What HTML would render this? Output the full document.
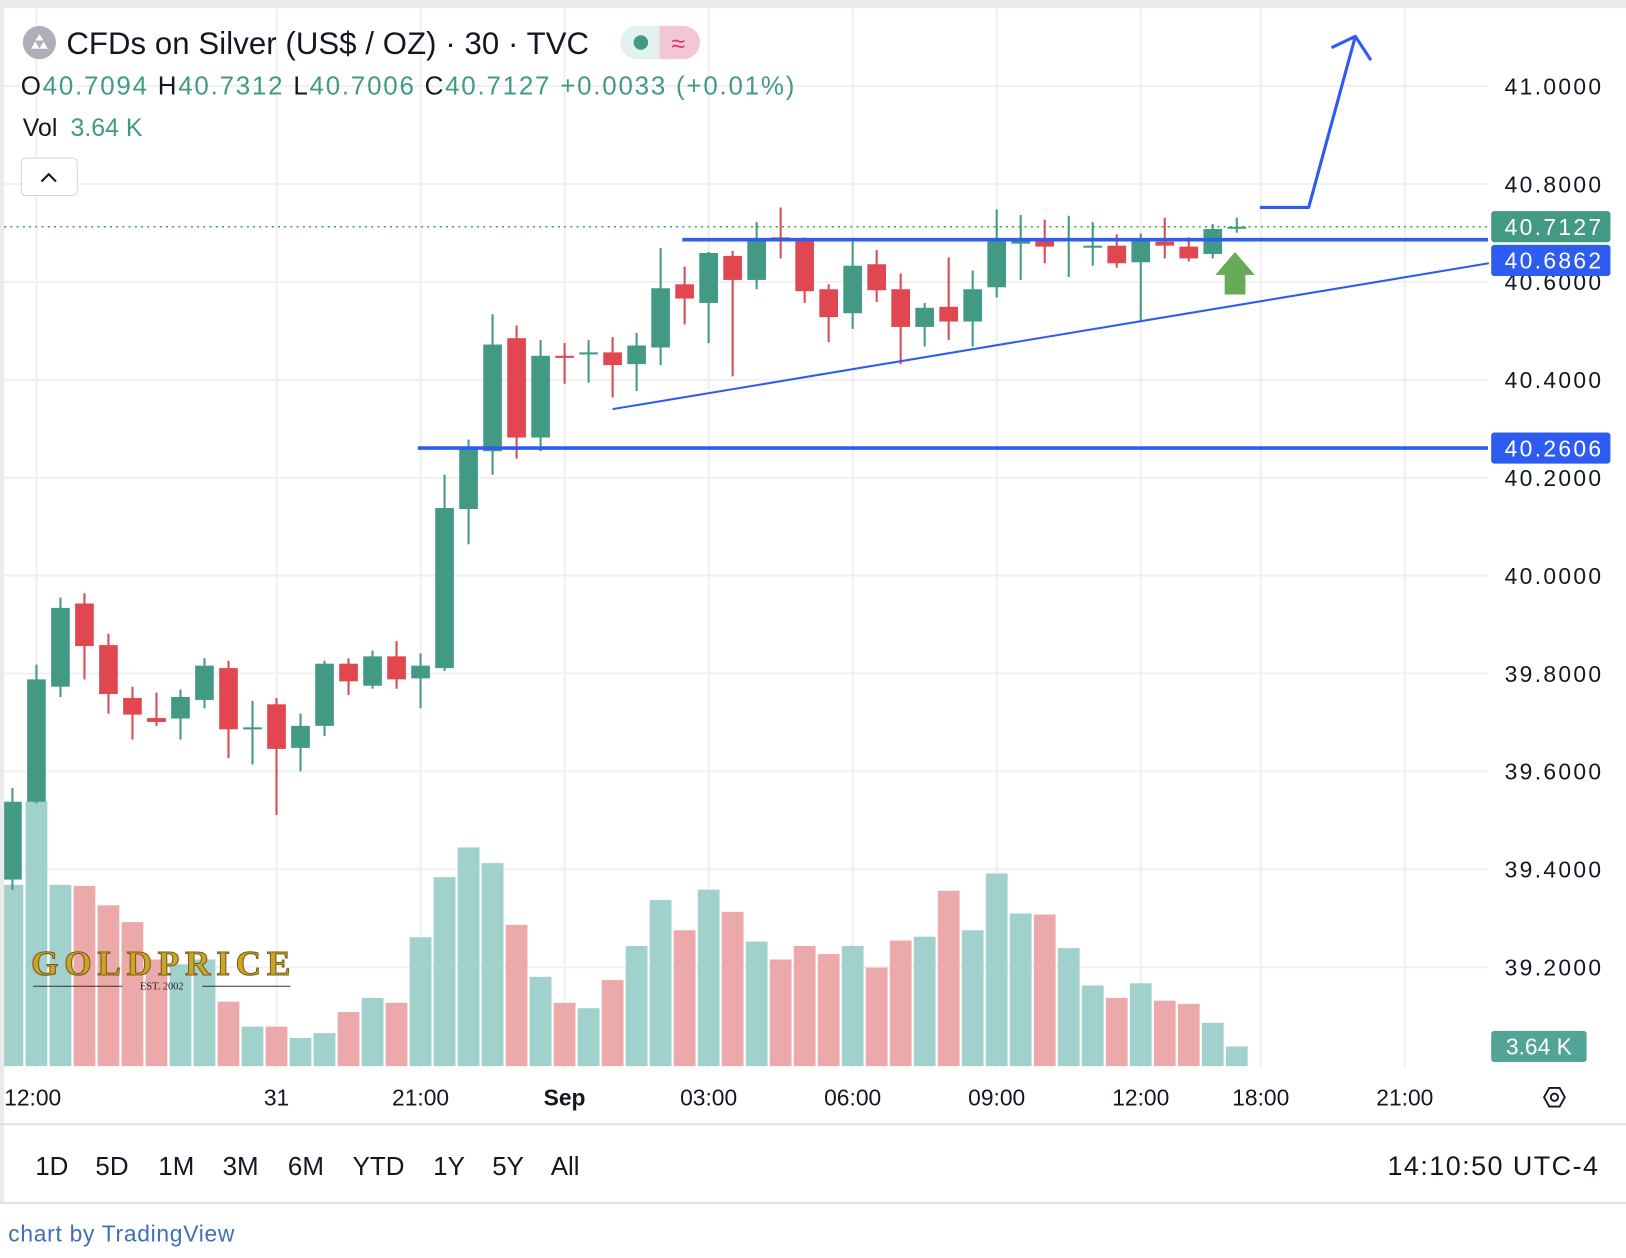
<!DOCTYPE html>
<html><head><meta charset="utf-8">
<style>
html,body{margin:0;padding:0;background:#fff;width:1626px;height:1258px;overflow:hidden}
svg{display:block;font-family:"Liberation Sans",sans-serif}
</style></head>
<body>
<svg id="chart" width="1626" height="1258" viewBox="0 0 1568 1213" preserveAspectRatio="none" xmlns="http://www.w3.org/2000/svg">
<rect x="0" y="0" width="1568" height="1213" fill="#fff"/>
<rect x="0" y="0" width="1568" height="8" fill="#ebebeb"/>
<rect x="0" y="0" width="4" height="1160" fill="#ebebeb"/>
<g id="grid"></g>
<g id="vols"></g>
<g id="candles"></g>
<g>
<text x="30" y="940" font-family="Liberation Serif,serif" font-weight="bold" font-size="34" fill="#c9a52a" stroke="#7a5a10" stroke-width="1" textLength="250">GOLDPRICE</text>
<line x1="32" y1="951" x2="118" y2="951" stroke="#333" stroke-width="1"/>
<line x1="195" y1="951" x2="280" y2="951" stroke="#333" stroke-width="1"/>
<text x="156" y="954" text-anchor="middle" font-family="Liberation Serif,serif" font-size="10" fill="#222">EST. 2002</text>
</g>
<g id="drawings"></g>
<g id="axis"></g>
<!-- header -->
<circle cx="38" cy="41" r="16" fill="#b0aeb8"/>
<path d="M30 47 L34 40 L38 47 Z M38 47 L42 40 L46 47 Z M34 39 L38 33 L42 39 Z" fill="#fff"/>
<text x="64" y="52" font-size="30" fill="#131722" textLength="504">CFDs on Silver (US$ / OZ) · 30 · TVC</text>
<g>
<rect x="598" y="25" width="77" height="32" rx="16" fill="#e3f2ee"/>
<path d="M636 25 H659 A16 16 0 0 1 659 57 H636 Z" fill="#f2c6d3"/>
<circle cx="618" cy="41" r="7" fill="#429a85"/>
<text x="654" y="50" font-size="24" fill="#d9376e" text-anchor="middle">≈</text>
</g>
<text x="20" y="91" font-size="25" fill="#131722" textLength="746">O<tspan fill="#429a85">40.7094</tspan>  H<tspan fill="#429a85">40.7312</tspan>  L<tspan fill="#429a85">40.7006</tspan>  C<tspan fill="#429a85">40.7127</tspan>  <tspan fill="#429a85">+0.0033 (+0.01%)</tspan></text>
<text x="22" y="131" font-size="24" fill="#131722">Vol <tspan dx="6" fill="#429a85">3.64 K</tspan></text>
<g>
<rect x="20.5" y="152.5" width="54" height="36" rx="4" fill="#fff" stroke="#d6d6d6"/>
<path d="M40 175 L47 168 L54 175" fill="none" stroke="#131722" stroke-width="2"/>
</g>
<!-- time axis -->
<g id="taxis"></g>
<line x1="0" y1="1084" x2="1568" y2="1084" stroke="#e0e0e0" stroke-width="2"/>
<g>
<path d="M1489 1058 L1494 1049 L1504 1049 L1509 1058 L1504 1067 L1494 1067 Z" fill="none" stroke="#131722" stroke-width="1.8"/>
<circle cx="1499" cy="1058" r="3.5" fill="none" stroke="#131722" stroke-width="1.8"/>
</g>
<g id="ranges"></g>
<text x="1541" y="1133" font-size="26" fill="#131722" text-anchor="end" textLength="203">14:10:50 UTC-4</text>
<line x1="0" y1="1160" x2="1568" y2="1160" stroke="#e0e0e0" stroke-width="2"/>
<text x="8" y="1197" font-size="22" fill="#3f6fb5" textLength="218">chart by TradingView</text>
</svg>
<script>
const opens=[39.379,39.538,39.773,39.943,39.858,39.750,39.709,39.708,39.746,39.811,39.688,39.737,39.648,39.693,39.820,39.775,39.835,39.790,39.811,40.136,40.254,40.485,40.282,40.449,40.453,40.456,40.432,40.466,40.595,40.557,40.653,40.604,40.691,40.686,40.585,40.536,40.636,40.585,40.508,40.549,40.519,40.589,40.678,40.684,40.684,40.672,40.674,40.640,40.682,40.672,40.657,40.7094];
const highs=[39.566,39.818,39.955,39.964,39.881,39.773,39.761,39.767,39.831,39.826,39.744,39.750,39.718,39.826,39.831,39.847,39.866,39.841,40.206,40.278,40.534,40.511,40.481,40.475,40.481,40.487,40.496,40.669,40.631,40.661,40.663,40.722,40.752,40.691,40.595,40.686,40.665,40.617,40.557,40.650,40.623,40.748,40.737,40.727,40.735,40.722,40.697,40.699,40.731,40.691,40.718,40.7312];
const lows=[39.358,39.535,39.752,39.788,39.718,39.665,39.693,39.665,39.729,39.627,39.614,39.511,39.600,39.672,39.756,39.769,39.769,39.729,39.805,40.064,40.206,40.239,40.254,40.392,40.394,40.364,40.377,40.430,40.513,40.475,40.407,40.585,40.648,40.557,40.477,40.504,40.559,40.432,40.468,40.481,40.468,40.568,40.604,40.638,40.610,40.633,40.629,40.519,40.648,40.642,40.648,40.7006];
const closes=[39.538,39.788,39.934,39.856,39.758,39.716,39.701,39.752,39.816,39.686,39.690,39.646,39.693,39.820,39.784,39.835,39.788,39.816,40.138,40.261,40.472,40.282,40.449,40.445,40.456,40.430,40.470,40.587,40.566,40.659,40.604,40.689,40.687,40.581,40.528,40.633,40.583,40.508,40.547,40.519,40.585,40.686,40.686,40.672,40.687,40.674,40.638,40.689,40.674,40.648,40.708,40.7127];
const volumes=[33.5,48.9,33.5,33.3,29.7,26.6,19.7,18.8,19.7,11.9,7.3,7.3,5.2,6.1,10.0,12.6,11.7,23.8,34.9,40.4,37.5,26.1,16.5,11.7,10.7,15.9,22.2,30.7,25.1,32.6,28.5,23.0,19.7,22.2,20.7,22.2,18.2,23.2,23.9,32.4,25.1,35.6,28.2,28.0,21.8,14.9,12.6,15.3,12.1,11.5,8.0,3.64];
const priceTicks=[41.0,40.8,40.6,40.4,40.2,40.0,39.8,39.6,39.4,39.2];
const timeLabels=["12:00","31","21:00","Sep","03:00","06:00","09:00","12:00","18:00","21:00"];
const timeSlots=[1,11,17,23,29,35,41,47,52,58];
const rangeLabels=["1D","5D","1M","3M","6M","YTD","1Y","5Y","All"];
const lastPrice=40.7127, resistance=40.6862, support=40.2606;
const trendStart=[25,40.34], trendEnd=[61.5,40.638];

const NS="http://www.w3.org/2000/svg";
function y(p){return 83+(41-p)*472;}
function x(i){return 12+i*23.15;}
function yv(v){return 1028-v*5.22;}
function el(tag,attrs,parent){const e=document.createElementNS(NS,tag);for(const k in attrs)e.setAttribute(k,attrs[k]);parent.appendChild(e);return e;}
const G=document.getElementById('grid'),V=document.getElementById('vols'),C=document.getElementById('candles'),A=document.getElementById('axis'),D=document.getElementById('drawings'),T=document.getElementById('taxis'),R=document.getElementById('ranges');

priceTicks.forEach(p=>{
  const l=el('line',{x1:4,x2:1435,y1:y(p),y2:y(p),stroke:'#f0f0f0','stroke-width':2},G);
  
  
  const t=el('text',{x:1451,y:y(p)+8,'font-size':22,fill:'#131722',textLength:93},A);
  t.textContent=p.toFixed(4);
  
  
});
timeSlots.forEach((s,k)=>{
  const l=el('line',{x1:x(s),x2:x(s),y1:8,y2:1030,stroke:'#f0f0f0','stroke-width':2},G);
  
  
  const t=el('text',{x:k===0?4:x(s),y:1066,'font-size':22,fill:'#131722','text-anchor':k===0?'start':'middle','font-weight':timeLabels[k]==='Sep'?'bold':'normal'},T);
  t.textContent=timeLabels[k];
  
  
});
volumes.forEach((v,i)=>{
  const up=closes[i]>=opens[i];
  const xl=Math.max(4,x(i)-10.5), xr=x(i)+10.5;
  const r=el('rect',{x:xl,y:yv(v),width:xr-xl,height:1028-yv(v),fill:up?'#a1d1cc':'#eca9aa'},V);
  
  
});
opens.forEach((o,i)=>{
  const c=closes[i],up=c>=o,col=up?'#429a85':'#e0474f';
  const g=el('g',{},C);
  
  
  el('line',{x1:x(i),x2:x(i),y1:y(highs[i]),y2:y(lows[i]),stroke:col,'stroke-width':2},g);
  const top=y(Math.max(o,c)),h=Math.max(2,Math.abs(y(o)-y(c)));
  const xl=Math.max(4,x(i)-9);
  el('rect',{x:xl,y:top,width:x(i)+9-xl,height:h,fill:col},g);
});
let l=el('line',{x1:4,x2:1435,y1:y(lastPrice),y2:y(lastPrice),stroke:'#429a85','stroke-width':1.5,'stroke-dasharray':'2 4'},D);


l=el('line',{x1:658,x2:1435,y1:y(resistance),y2:y(resistance),stroke:'#2f5cf0','stroke-width':3.5},D);


l=el('line',{x1:403,x2:1435,y1:y(support),y2:y(support),stroke:'#2f5cf0','stroke-width':3.5},D);


l=el('line',{x1:x(trendStart[0]),y1:y(trendStart[1]),x2:x(trendEnd[0]),y2:y(trendEnd[1]),stroke:'#2f5cf0','stroke-width':2},D);


l=el('path',{d:'M1215 200 L1262 200 L1307 35 M1284 46 L1307 35 L1322 58',fill:'none',stroke:'#2f5cf0','stroke-width':3,'stroke-linejoin':'round'},D);


l=el('path',{d:'M1191 243 L1210 265 L1201 265 L1201 284 L1181 284 L1181 265 L1172 265 Z',fill:'#66ac57'},D);


function badge(txt,col,name,yy){
  const g=el('g',{},A);
  
  
  el('rect',{x:1438,y:yy-15,width:115,height:30,rx:3,fill:col},g);
  const t=el('text',{x:1451,y:yy+8,'font-size':22,fill:'#fff',textLength:93},g);
  t.textContent=txt;
}
badge(lastPrice.toFixed(4),'#429a85','last-price-label',y(lastPrice));
badge(resistance.toFixed(4),'#2f5cf0','resistance-label',y(resistance)+20);
badge(support.toFixed(4),'#2f5cf0','support-label',y(support));
const vb=el('g',{},A);


el('rect',{x:1438,y:994,width:92,height:30,rx:3,fill:'#52a497'},vb);
const vt=el('text',{x:1484,y:1017,'font-size':22,fill:'#fff','text-anchor':'middle'},vb);
vt.textContent=volumes[volumes.length-1].toFixed(2)+' K';
const rx=[50,108,170,232,295,365,433,490,545];
rangeLabels.forEach((r,k)=>{
  const t=el('text',{x:rx[k],y:1133,'font-size':25,fill:'#131722','text-anchor':'middle'},R);
  t.textContent=r;
  
  
});
</script>
</body></html>
